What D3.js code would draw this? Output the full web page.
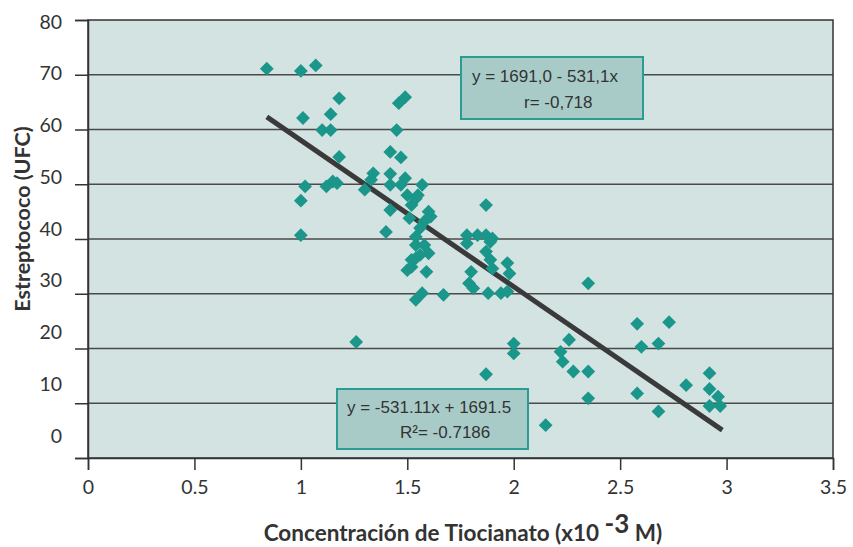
<!DOCTYPE html>
<html>
<head>
<meta charset="utf-8">
<script src="https://cdn.jsdelivr.net/npm/d3@7"></script>
<style>
  body { margin: 0; background: #fff; }
  svg text { font-family: Lato, "Open Sans", sans-serif; fill: #333; }
  svg .note text { font-family: "Liberation Sans", Arial, sans-serif; fill: #333; }
</style>
</head>
<body>
<svg id="chart" width="853" height="547"></svg>
<script>
// concentracion de tiocianato (x10^-3 M)
const tiocianato = [0.84, 1.00, 1.07, 1.18, 1.01, 1.14, 1.10, 1.14, 1.46, 1.49,
  1.45, 1.42, 1.47, 1.18, 1.02, 1.00, 1.00, 1.12, 1.15, 1.17,
  1.30, 1.34, 1.33, 1.42, 1.42, 1.49, 1.47, 1.57, 1.50, 1.55,
  1.52, 1.42, 1.54, 1.61, 1.60, 1.51, 1.58, 1.56, 1.40, 1.54,
  1.54, 1.58, 1.60, 1.56, 1.54, 1.52, 1.52, 1.50, 1.59, 1.54,
  1.57, 1.67, 1.26, 1.87, 1.78, 1.83, 1.87, 1.90, 1.78, 1.89,
  1.87, 1.89, 1.90, 1.97, 1.98, 1.80, 1.79, 1.81, 1.88, 1.94,
  1.97, 1.87, 2.00, 2.00, 2.35, 2.26, 2.22, 2.23, 2.28, 2.35,
  2.35, 2.15, 2.58, 2.58, 2.60, 2.68, 2.73, 2.68, 2.81, 2.92,
  2.92, 2.96, 2.92, 2.97]
// estreptococo (UFC)
const estreptococo = [71.1, 70.7, 71.7, 65.7, 62.1, 62.8, 59.9, 59.9, 64.8, 65.9,
  59.9, 55.9, 54.9, 55.0, 49.6, 47.0, 40.7, 49.6, 50.5, 50.2,
  49.0, 52.0, 50.8, 51.9, 49.9, 51.1, 49.9, 49.9, 48.0, 48.0,
  46.2, 45.3, 47.4, 44.1, 45.0, 43.8, 43.2, 42.0, 41.3, 40.4,
  38.9, 38.9, 37.4, 37.1, 36.5, 36.2, 34.9, 34.3, 34.0, 28.9,
  30.1, 29.8, 21.2, 46.2, 40.7, 40.7, 40.7, 40.1, 39.2, 39.5,
  37.7, 36.2, 34.6, 35.6, 33.7, 34.0, 31.9, 31.0, 30.1, 30.1,
  30.4, 15.3, 20.9, 19.1, 31.9, 21.6, 19.4, 17.6, 15.8, 15.8,
  10.9, 6.0, 24.5, 11.8, 20.3, 20.9, 24.8, 8.5, 13.3, 15.5,
  12.6, 11.2, 9.5, 9.5]

// trend line ends
const lineX = [0.84, 2.98]
const lineY = [62.3, 5.1]

const xTicks = [0, 0.5, 1, 1.5, 2, 2.5, 3, 3.5]
const yTicks = [0, 10, 20, 30, 40, 50, 60, 70, 80]

const note1 = ["y = 1691,0 - 531,1x", "r= -0,718"]
const note2 = ["y = -531.11x + 1691.5", "R²= -0.7186"]

const margin = {left: 88, top: 20}, width = 745, height = 438

var svg = d3.select("#chart")
var g = svg.append("g").attr("transform", `translate(${margin.left},${margin.top})`)

var x = d3.scaleLinear().domain([0, 3.5]).range([0, width])
var y = d3.scaleLinear().domain([0, 80]).range([height, 0])
// the tick numbers in the picture sit on their own, slightly tighter, spacing
var yLabel = d3.scaleLinear().domain([0, 80]).range([415, 1])

g.append("rect")
  .attr("width", width).attr("height", height)
  .attr("fill", "#d2e3e2")

g.selectAll(".grid").data(yTicks.slice(1, -1)).enter()
  .append("line")
  .attr("x1", 0).attr("x2", width)
  .attr("y1", d => y(d)).attr("y2", d => y(d))
  .attr("stroke", "#4a4a4a").attr("stroke-width", 1.3)

g.append("rect")
  .attr("width", width).attr("height", height)
  .attr("fill", "none").attr("stroke", "#333").attr("stroke-width", 1.5)

// y axis, ticks only
var yAxis = g.append("g").call(d3.axisLeft(y).tickValues(yTicks).tickSize(13).tickFormat(""))
yAxis.selectAll("line").attr("stroke", "#333").attr("stroke-width", 1.5)
yAxis.select(".domain").attr("stroke", "#333").attr("stroke-width", 1.5)

g.selectAll(".ylab").data(yTicks).enter()
  .append("text")
  .attr("x", -26).attr("y", d => yLabel(d))
  .attr("text-anchor", "end").attr("dominant-baseline", "central")
  .attr("font-size", 19.5)
  .text(d => d)

var xAxis = g.append("g").attr("transform", `translate(0,${height})`)
  .call(d3.axisBottom(x).tickValues(xTicks).tickSize(12).tickPadding(10).tickFormat(d => d))
xAxis.selectAll("line").attr("stroke", "#333").attr("stroke-width", 1.5)
xAxis.select(".domain").attr("stroke", "#333").attr("stroke-width", 1.5)
xAxis.selectAll("text").attr("font-size", 19.5).attr("font-family", "Lato, sans-serif").attr("fill", "#333")

// regression line
g.append("line")
  .attr("x1", x(lineX[0])).attr("y1", y(lineY[0]))
  .attr("x2", x(lineX[1])).attr("y2", y(lineY[1]))
  .attr("stroke", "#3a3a3a").attr("stroke-width", 5)

var diamond = d3.symbol().type(d3.symbolSquare).size(95)
g.selectAll(".pt").data(d3.range(tiocianato.length)).enter()
  .append("path")
  .attr("d", diamond)
  .attr("transform", i => `translate(${x(tiocianato[i])},${y(estreptococo[i])}) rotate(45)`)
  .attr("fill", "#1a968a")

function render_note(lines, bx, by, bw, bh, offsets){
  var n = svg.append("g").attr("class", "note")
  n.append("rect")
    .attr("x", bx).attr("y", by).attr("width", bw).attr("height", bh)
    .attr("fill", "#a8cbc8").attr("stroke", "#2a9d93").attr("stroke-width", 2)
  lines.forEach((t, i) => {
    n.append("text")
      .attr("x", bx + offsets[i][0]).attr("y", by + offsets[i][1])
      .attr("font-size", 17)
      .text(t)
  })
}
render_note(note1, 461, 57, 182, 62, [[11, 25], [63, 51]])
render_note(note2, 337, 389, 191, 60, [[10, 24], [63, 49]])

// axis titles
svg.append("text")
  .attr("transform", "translate(30,219) rotate(-90)")
  .attr("text-anchor", "middle")
  .attr("font-size", 21.5).attr("font-weight", "bold")
  .text("Estreptococo (UFC)")

var xt = svg.append("text")
  .attr("x", 463).attr("y", 541)
  .attr("text-anchor", "middle")
  .attr("font-size", 22.5).attr("font-weight", "bold")
xt.append("tspan").text("Concentración de Tiocianato (x10 ")
xt.append("tspan").attr("dy", -8).attr("font-size", 26).text("-3")
xt.append("tspan").attr("dy", 8).text(" M)")
</script>
</body>
</html>
